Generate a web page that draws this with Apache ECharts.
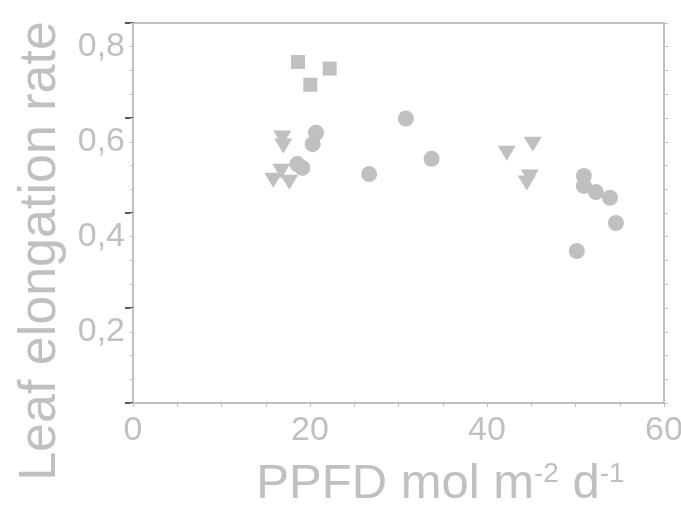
<!DOCTYPE html>
<html>
<head>
<meta charset="utf-8">
<script src="https://cdn.jsdelivr.net/npm/echarts@6/dist/echarts.min.js"></script>
<style>
  html, body { margin: 0; padding: 0; background: #fff; }
  #main { width: 681px; height: 505px; }
</style>
</head>
<body>
<div id="main"></div>
<script>
// PPFD (x) vs leaf elongation rate (y), three groups
var squarePts = [[18.65, 0.768], [20.04, 0.720], [22.22, 0.754]];
var circlePts = [
    [20.68, 0.619], [20.30, 0.595], [18.57, 0.553], [19.13, 0.545],
    [26.68, 0.532], [30.83, 0.649], [33.74, 0.564],
    [50.95, 0.528], [50.95, 0.507], [52.30, 0.494], [53.90, 0.482],
    [54.57, 0.429], [50.15, 0.370]
];
var trianglePts = [
    [16.87, 0.608], [16.98, 0.591], [16.76, 0.538], [15.85, 0.519], [17.66, 0.515],
    [42.23, 0.576], [45.17, 0.595], [44.83, 0.526], [44.49, 0.513]
];
var yLabelValues = [0.2, 0.4, 0.6, 0.8];
var yMajorTicks = [0.05, 0.25, 0.45, 0.65, 0.85];

var grey = '#c0c0c0';
var myChart = echarts.init(document.getElementById('main'));

var option = {
    backgroundColor: '#ffffff',
    animation: false,
    textStyle: { fontFamily: 'Liberation Sans, Arial, sans-serif' },
    grid: { left: 133, right: 17, top: 23, bottom: 102, outerBoundsMode: 'none', containLabel: false },
    xAxis: [{
        type: 'value',
        min: 0,
        max: 60,
        interval: 20,
        position: 'bottom',
        axisLine: { lineStyle: { color: grey, width: 2 } },
        axisTick: { length: 4, lineStyle: { color: grey } },
        minorTick: { show: true, splitNumber: 4, length: 4, lineStyle: { color: grey } },
        splitLine: { show: false },
        axisLabel: { color: grey, fontSize: 34, margin: 11 },
        name: 'PPFD mol m{sup|-2} d{sup|-1}',
        nameLocation: 'middle',
        nameGap: 57,
        nameTextStyle: {
            color: grey,
            fontSize: 49,
            lineHeight: 49,
            padding: [0, 0, 0, 84],
            rich: {
                sup: { fontSize: 28, lineHeight: 28, verticalAlign: 'top', color: grey }
            }
        }
    }, {
        type: 'value',
        min: 0,
        max: 60,
        position: 'top',
        axisLine: { show: true, lineStyle: { color: grey, width: 2 } },
        axisTick: { show: false },
        axisLabel: { show: false },
        splitLine: { show: false }
    }],
    yAxis: [{
        type: 'value',
        min: 0.05,
        max: 0.85,
        position: 'left',
        axisLine: { show: true, lineStyle: { color: grey, width: 2 } },
        axisTick: { show: true, customValues: yMajorTicks, length: 8, lineStyle: { color: '#222', width: 1.5 } },
        splitLine: { show: false },
        axisLabel: {
            customValues: yLabelValues,
            color: grey,
            fontSize: 34,
            margin: 8,
            formatter: function (v) { return v.toFixed(1).replace('.', ','); }
        },
        name: 'Leaf elongation rate',
        nameLocation: 'middle',
        nameGap: 64,
        nameTextStyle: { color: grey, fontSize: 52, padding: [0, 76, 0, 0] }
    }, {
        type: 'value',
        min: 0.05,
        max: 0.85,
        interval: 0.05,
        position: 'left',
        axisLine: { show: false },
        axisTick: { length: 3, lineStyle: { color: grey } },
        axisLabel: { show: false },
        splitLine: { show: false }
    }, {
        type: 'value',
        min: 0.05,
        max: 0.85,
        interval: 0.05,
        position: 'right',
        axisLine: { show: true, lineStyle: { color: grey, width: 2 } },
        axisTick: { length: 4, lineStyle: { color: grey } },
        axisLabel: { show: false },
        splitLine: { show: false }
    }],
    series: [{
        type: 'scatter',
        data: squarePts,
        symbol: 'rect',
        symbolSize: 14,
        itemStyle: { color: grey, opacity: 1 }
    }, {
        type: 'scatter',
        data: circlePts,
        symbol: 'circle',
        symbolSize: 16,
        itemStyle: { color: grey, opacity: 1 }
    }, {
        type: 'scatter',
        data: trianglePts,
        symbol: 'triangle',
        symbolSize: [18, 15],
        symbolRotate: 180,
        itemStyle: { color: grey, opacity: 1 }
    }]
};

myChart.setOption(option);
</script>
</body>
</html>
